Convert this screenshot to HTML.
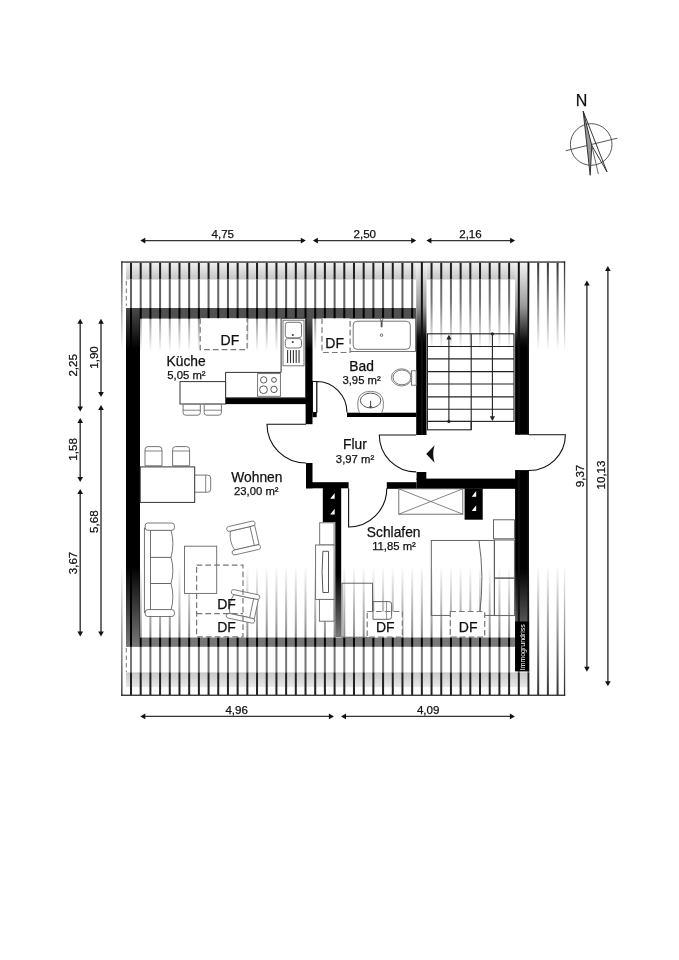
<!DOCTYPE html>
<html><head><meta charset="utf-8"><style>
html,body{margin:0;padding:0;background:#fff;}
body{width:679px;height:960px;overflow:hidden;}
svg{display:block;font-family:"Liberation Sans",sans-serif;filter:grayscale(1);}
text{stroke:#111;stroke-width:0.25px;}
</style></head><body>
<svg width="679" height="960" viewBox="0 0 679 960">
<rect width="679" height="960" fill="#fff"/>

<defs>
 <linearGradient id="gband" x1="0" y1="0" x2="0" y2="1">
  <stop offset="0" stop-color="#f0f0f0"/><stop offset="1" stop-color="#c4c4c4"/>
 </linearGradient>
 <linearGradient id="gbandb" x1="0" y1="0" x2="0" y2="1">
  <stop offset="0" stop-color="#c8c8c8"/><stop offset="1" stop-color="#e8e8e8"/>
 </linearGradient>
 <linearGradient id="fadeDown" x1="0" y1="0" x2="0" y2="1">
  <stop offset="0" stop-color="#fff" stop-opacity="0"/><stop offset="1" stop-color="#fff" stop-opacity="1"/>
 </linearGradient>
 <linearGradient id="fadeDownSlow" x1="0" y1="0" x2="0" y2="1">
  <stop offset="0" stop-color="#fff" stop-opacity="0"/><stop offset="0.3" stop-color="#fff" stop-opacity="0.1"/><stop offset="0.75" stop-color="#fff" stop-opacity="0.7"/><stop offset="1" stop-color="#fff" stop-opacity="1"/>
 </linearGradient>
 <linearGradient id="gEdge" x1="0" y1="262" x2="0" y2="695" gradientUnits="userSpaceOnUse">
  <stop offset="0" stop-color="#2a2a2a" stop-opacity="1"/><stop offset="0.208" stop-color="#2a2a2a" stop-opacity="0"/>
  <stop offset="0.70" stop-color="#2a2a2a" stop-opacity="0"/><stop offset="1" stop-color="#2a2a2a" stop-opacity="1"/>
 </linearGradient>
 <linearGradient id="gKBwall" x1="0" y1="318" x2="0" y2="350" gradientUnits="userSpaceOnUse">
  <stop offset="0" stop-color="#555"/><stop offset="1" stop-color="#000"/>
 </linearGradient>
 <linearGradient id="fadeUp" x1="0" y1="0" x2="0" y2="1">
  <stop offset="0" stop-color="#fff" stop-opacity="1"/><stop offset="1" stop-color="#fff" stop-opacity="0"/>
 </linearGradient>
 <linearGradient id="gLeftWall" x1="0" y1="308" x2="0" y2="646.5" gradientUnits="userSpaceOnUse">
  <stop offset="0" stop-color="#4a4a4a"/><stop offset="0.12" stop-color="#000"/>
  <stop offset="0.765" stop-color="#000"/><stop offset="1" stop-color="#777"/>
 </linearGradient>
 <linearGradient id="gStairL" x1="0" y1="262" x2="0" y2="345" gradientUnits="userSpaceOnUse">
  <stop offset="0" stop-color="#f4f4f4"/><stop offset="0.53" stop-color="#9a9a9a"/><stop offset="0.9" stop-color="#111"/><stop offset="1" stop-color="#000"/>
 </linearGradient>
 <linearGradient id="gStairR" x1="0" y1="262" x2="0" y2="671" gradientUnits="userSpaceOnUse">
  <stop offset="0" stop-color="#f4f4f4"/><stop offset="0.107" stop-color="#9a9a9a"/><stop offset="0.19" stop-color="#111"/><stop offset="0.21" stop-color="#000"/>
  <stop offset="0.75" stop-color="#000"/><stop offset="0.88" stop-color="#555"/><stop offset="1" stop-color="#555"/>
 </linearGradient>
 <linearGradient id="gWSwall" x1="0" y1="522" x2="0" y2="637" gradientUnits="userSpaceOnUse">
  <stop offset="0" stop-color="#000"/><stop offset="0.45" stop-color="#000"/><stop offset="1" stop-color="#777"/>
 </linearGradient>
</defs>

<rect x="126" y="262.8" width="290" height="16.7" fill="url(#gband)"/>
<rect x="426.5" y="262.8" width="89" height="16.7" fill="url(#gband)"/>
<rect x="130.00" y="262.80" width="2.00" height="16.70" fill="#1e1e1e" />
<rect x="139.69" y="262.80" width="2.00" height="16.70" fill="#1e1e1e" />
<rect x="149.39" y="262.80" width="2.00" height="16.70" fill="#1e1e1e" />
<rect x="159.09" y="262.80" width="2.00" height="16.70" fill="#1e1e1e" />
<rect x="168.78" y="262.80" width="2.00" height="16.70" fill="#1e1e1e" />
<rect x="178.47" y="262.80" width="2.00" height="16.70" fill="#1e1e1e" />
<rect x="188.17" y="262.80" width="2.00" height="16.70" fill="#1e1e1e" />
<rect x="197.87" y="262.80" width="2.00" height="16.70" fill="#1e1e1e" />
<rect x="207.56" y="262.80" width="2.00" height="16.70" fill="#1e1e1e" />
<rect x="217.25" y="262.80" width="2.00" height="16.70" fill="#1e1e1e" />
<rect x="226.95" y="262.80" width="2.00" height="16.70" fill="#1e1e1e" />
<rect x="236.65" y="262.80" width="2.00" height="16.70" fill="#1e1e1e" />
<rect x="246.34" y="262.80" width="2.00" height="16.70" fill="#1e1e1e" />
<rect x="256.03" y="262.80" width="2.00" height="16.70" fill="#1e1e1e" />
<rect x="265.73" y="262.80" width="2.00" height="16.70" fill="#1e1e1e" />
<rect x="275.43" y="262.80" width="2.00" height="16.70" fill="#1e1e1e" />
<rect x="285.12" y="262.80" width="2.00" height="16.70" fill="#1e1e1e" />
<rect x="294.81" y="262.80" width="2.00" height="16.70" fill="#1e1e1e" />
<rect x="304.51" y="262.80" width="2.00" height="16.70" fill="#1e1e1e" />
<rect x="314.21" y="262.80" width="2.00" height="16.70" fill="#1e1e1e" />
<rect x="323.90" y="262.80" width="2.00" height="16.70" fill="#1e1e1e" />
<rect x="333.60" y="262.80" width="2.00" height="16.70" fill="#1e1e1e" />
<rect x="343.29" y="262.80" width="2.00" height="16.70" fill="#1e1e1e" />
<rect x="352.99" y="262.80" width="2.00" height="16.70" fill="#1e1e1e" />
<rect x="362.68" y="262.80" width="2.00" height="16.70" fill="#1e1e1e" />
<rect x="372.38" y="262.80" width="2.00" height="16.70" fill="#1e1e1e" />
<rect x="382.07" y="262.80" width="2.00" height="16.70" fill="#1e1e1e" />
<rect x="391.76" y="262.80" width="2.00" height="16.70" fill="#1e1e1e" />
<rect x="401.46" y="262.80" width="2.00" height="16.70" fill="#1e1e1e" />
<rect x="411.16" y="262.80" width="2.00" height="16.70" fill="#1e1e1e" />
<rect x="130.00" y="279.50" width="2.00" height="28.50" fill="#666" />
<rect x="139.69" y="279.50" width="2.00" height="28.50" fill="#666" />
<rect x="149.39" y="279.50" width="2.00" height="28.50" fill="#666" />
<rect x="159.09" y="279.50" width="2.00" height="28.50" fill="#666" />
<rect x="168.78" y="279.50" width="2.00" height="28.50" fill="#666" />
<rect x="178.47" y="279.50" width="2.00" height="28.50" fill="#666" />
<rect x="188.17" y="279.50" width="2.00" height="28.50" fill="#666" />
<rect x="197.87" y="279.50" width="2.00" height="28.50" fill="#666" />
<rect x="207.56" y="279.50" width="2.00" height="28.50" fill="#666" />
<rect x="217.25" y="279.50" width="2.00" height="28.50" fill="#666" />
<rect x="226.95" y="279.50" width="2.00" height="28.50" fill="#666" />
<rect x="236.65" y="279.50" width="2.00" height="28.50" fill="#666" />
<rect x="246.34" y="279.50" width="2.00" height="28.50" fill="#666" />
<rect x="256.03" y="279.50" width="2.00" height="28.50" fill="#666" />
<rect x="265.73" y="279.50" width="2.00" height="28.50" fill="#666" />
<rect x="275.43" y="279.50" width="2.00" height="28.50" fill="#666" />
<rect x="285.12" y="279.50" width="2.00" height="28.50" fill="#666" />
<rect x="294.81" y="279.50" width="2.00" height="28.50" fill="#666" />
<rect x="304.51" y="279.50" width="2.00" height="28.50" fill="#666" />
<rect x="314.21" y="279.50" width="2.00" height="28.50" fill="#666" />
<rect x="323.90" y="279.50" width="2.00" height="28.50" fill="#666" />
<rect x="333.60" y="279.50" width="2.00" height="28.50" fill="#666" />
<rect x="343.29" y="279.50" width="2.00" height="28.50" fill="#666" />
<rect x="352.99" y="279.50" width="2.00" height="28.50" fill="#666" />
<rect x="362.68" y="279.50" width="2.00" height="28.50" fill="#666" />
<rect x="372.38" y="279.50" width="2.00" height="28.50" fill="#666" />
<rect x="382.07" y="279.50" width="2.00" height="28.50" fill="#666" />
<rect x="391.76" y="279.50" width="2.00" height="28.50" fill="#666" />
<rect x="401.46" y="279.50" width="2.00" height="28.50" fill="#666" />
<rect x="411.16" y="279.50" width="2.00" height="28.50" fill="#666" />
<rect x="430.55" y="262.80" width="2.00" height="16.70" fill="#1e1e1e" />
<rect x="440.24" y="262.80" width="2.00" height="16.70" fill="#1e1e1e" />
<rect x="449.94" y="262.80" width="2.00" height="16.70" fill="#1e1e1e" />
<rect x="459.63" y="262.80" width="2.00" height="16.70" fill="#1e1e1e" />
<rect x="469.32" y="262.80" width="2.00" height="16.70" fill="#1e1e1e" />
<rect x="479.02" y="262.80" width="2.00" height="16.70" fill="#1e1e1e" />
<rect x="488.72" y="262.80" width="2.00" height="16.70" fill="#1e1e1e" />
<rect x="498.41" y="262.80" width="2.00" height="16.70" fill="#1e1e1e" />
<rect x="508.11" y="262.80" width="2.00" height="16.70" fill="#1e1e1e" />
<rect x="430.55" y="279.50" width="2.00" height="70.50" fill="#666" />
<rect x="440.24" y="279.50" width="2.00" height="70.50" fill="#666" />
<rect x="449.94" y="279.50" width="2.00" height="70.50" fill="#666" />
<rect x="459.63" y="279.50" width="2.00" height="70.50" fill="#666" />
<rect x="469.32" y="279.50" width="2.00" height="70.50" fill="#666" />
<rect x="479.02" y="279.50" width="2.00" height="70.50" fill="#666" />
<rect x="488.72" y="279.50" width="2.00" height="70.50" fill="#666" />
<rect x="498.41" y="279.50" width="2.00" height="70.50" fill="#666" />
<rect x="508.11" y="279.50" width="2.00" height="70.50" fill="#666" />
<rect x="426.5" y="279.5" width="89" height="70.5" fill="url(#fadeDownSlow)"/>
<rect x="140.00" y="318.00" width="1.69" height="34.00" fill="#9a9a9a" />
<rect x="149.39" y="318.00" width="2.00" height="34.00" fill="#9a9a9a" />
<rect x="159.09" y="318.00" width="2.00" height="34.00" fill="#9a9a9a" />
<rect x="168.78" y="318.00" width="2.00" height="34.00" fill="#9a9a9a" />
<rect x="178.47" y="318.00" width="2.00" height="34.00" fill="#9a9a9a" />
<rect x="188.17" y="318.00" width="2.00" height="34.00" fill="#9a9a9a" />
<rect x="197.87" y="318.00" width="2.00" height="34.00" fill="#9a9a9a" />
<rect x="207.56" y="318.00" width="2.00" height="34.00" fill="#9a9a9a" />
<rect x="217.25" y="318.00" width="2.00" height="34.00" fill="#9a9a9a" />
<rect x="226.95" y="318.00" width="2.00" height="34.00" fill="#9a9a9a" />
<rect x="236.65" y="318.00" width="2.00" height="34.00" fill="#9a9a9a" />
<rect x="246.34" y="318.00" width="2.00" height="34.00" fill="#9a9a9a" />
<rect x="256.03" y="318.00" width="2.00" height="34.00" fill="#9a9a9a" />
<rect x="265.73" y="318.00" width="2.00" height="34.00" fill="#9a9a9a" />
<rect x="275.43" y="318.00" width="2.00" height="34.00" fill="#9a9a9a" />
<rect x="285.12" y="318.00" width="2.00" height="34.00" fill="#9a9a9a" />
<rect x="294.81" y="318.00" width="2.00" height="34.00" fill="#9a9a9a" />
<rect x="304.51" y="318.00" width="1.49" height="34.00" fill="#9a9a9a" />
<rect x="314.21" y="318.00" width="2.00" height="34.00" fill="#9a9a9a" />
<rect x="323.90" y="318.00" width="2.00" height="34.00" fill="#9a9a9a" />
<rect x="333.60" y="318.00" width="2.00" height="34.00" fill="#9a9a9a" />
<rect x="343.29" y="318.00" width="2.00" height="34.00" fill="#9a9a9a" />
<rect x="352.99" y="318.00" width="2.00" height="34.00" fill="#9a9a9a" />
<rect x="362.68" y="318.00" width="2.00" height="34.00" fill="#9a9a9a" />
<rect x="372.38" y="318.00" width="2.00" height="34.00" fill="#9a9a9a" />
<rect x="382.07" y="318.00" width="2.00" height="34.00" fill="#9a9a9a" />
<rect x="391.76" y="318.00" width="2.00" height="34.00" fill="#9a9a9a" />
<rect x="401.46" y="318.00" width="2.00" height="34.00" fill="#9a9a9a" />
<rect x="411.16" y="318.00" width="2.00" height="34.00" fill="#9a9a9a" />
<rect x="140" y="318" width="276" height="34" fill="url(#fadeDown)"/>
<rect x="529.00" y="262.80" width="0.50" height="87.20" fill="#333" />
<rect x="537.19" y="262.80" width="2.00" height="87.20" fill="#333" />
<rect x="546.88" y="262.80" width="2.00" height="87.20" fill="#333" />
<rect x="556.58" y="262.80" width="2.00" height="87.20" fill="#333" />
<rect x="529" y="262.8" width="35.5" height="87.2" fill="url(#fadeDown)"/>
<rect x="529.00" y="565.00" width="0.50" height="130.00" fill="#333" />
<rect x="537.19" y="565.00" width="2.00" height="130.00" fill="#333" />
<rect x="546.88" y="565.00" width="2.00" height="130.00" fill="#333" />
<rect x="556.58" y="565.00" width="2.00" height="130.00" fill="#333" />
<rect x="529" y="565" width="35.5" height="130" fill="url(#fadeUp)"/>
<rect x="126" y="672.4" width="403" height="14.8" fill="url(#gbandb)"/>
<rect x="130.00" y="646.80" width="2.00" height="25.60" fill="#777" />
<rect x="139.69" y="646.80" width="2.00" height="25.60" fill="#777" />
<rect x="149.39" y="646.80" width="2.00" height="25.60" fill="#777" />
<rect x="159.09" y="646.80" width="2.00" height="25.60" fill="#777" />
<rect x="168.78" y="646.80" width="2.00" height="25.60" fill="#777" />
<rect x="178.47" y="646.80" width="2.00" height="25.60" fill="#777" />
<rect x="188.17" y="646.80" width="2.00" height="25.60" fill="#777" />
<rect x="197.87" y="646.80" width="2.00" height="25.60" fill="#777" />
<rect x="207.56" y="646.80" width="2.00" height="25.60" fill="#777" />
<rect x="217.25" y="646.80" width="2.00" height="25.60" fill="#777" />
<rect x="226.95" y="646.80" width="2.00" height="25.60" fill="#777" />
<rect x="236.65" y="646.80" width="2.00" height="25.60" fill="#777" />
<rect x="246.34" y="646.80" width="2.00" height="25.60" fill="#777" />
<rect x="256.03" y="646.80" width="2.00" height="25.60" fill="#777" />
<rect x="265.73" y="646.80" width="2.00" height="25.60" fill="#777" />
<rect x="275.43" y="646.80" width="2.00" height="25.60" fill="#777" />
<rect x="285.12" y="646.80" width="2.00" height="25.60" fill="#777" />
<rect x="294.81" y="646.80" width="2.00" height="25.60" fill="#777" />
<rect x="304.51" y="646.80" width="2.00" height="25.60" fill="#777" />
<rect x="314.21" y="646.80" width="2.00" height="25.60" fill="#777" />
<rect x="323.90" y="646.80" width="2.00" height="25.60" fill="#777" />
<rect x="333.60" y="646.80" width="2.00" height="25.60" fill="#777" />
<rect x="343.29" y="646.80" width="2.00" height="25.60" fill="#777" />
<rect x="352.99" y="646.80" width="2.00" height="25.60" fill="#777" />
<rect x="362.68" y="646.80" width="2.00" height="25.60" fill="#777" />
<rect x="372.38" y="646.80" width="2.00" height="25.60" fill="#777" />
<rect x="382.07" y="646.80" width="2.00" height="25.60" fill="#777" />
<rect x="391.76" y="646.80" width="2.00" height="25.60" fill="#777" />
<rect x="401.46" y="646.80" width="2.00" height="25.60" fill="#777" />
<rect x="411.16" y="646.80" width="2.00" height="25.60" fill="#777" />
<rect x="420.85" y="646.80" width="2.00" height="25.60" fill="#777" />
<rect x="430.55" y="646.80" width="2.00" height="25.60" fill="#777" />
<rect x="440.24" y="646.80" width="2.00" height="25.60" fill="#777" />
<rect x="449.94" y="646.80" width="2.00" height="25.60" fill="#777" />
<rect x="459.63" y="646.80" width="2.00" height="25.60" fill="#777" />
<rect x="469.32" y="646.80" width="2.00" height="25.60" fill="#777" />
<rect x="479.02" y="646.80" width="2.00" height="25.60" fill="#777" />
<rect x="488.72" y="646.80" width="2.00" height="25.60" fill="#777" />
<rect x="498.41" y="646.80" width="2.00" height="25.60" fill="#777" />
<rect x="508.11" y="646.80" width="2.00" height="25.60" fill="#777" />
<rect x="517.80" y="646.80" width="2.00" height="25.60" fill="#777" />
<rect x="527.50" y="646.80" width="1.50" height="25.60" fill="#777" />
<rect x="130.00" y="672.40" width="2.00" height="22.60" fill="#222" />
<rect x="139.69" y="672.40" width="2.00" height="22.60" fill="#222" />
<rect x="149.39" y="672.40" width="2.00" height="22.60" fill="#222" />
<rect x="159.09" y="672.40" width="2.00" height="22.60" fill="#222" />
<rect x="168.78" y="672.40" width="2.00" height="22.60" fill="#222" />
<rect x="178.47" y="672.40" width="2.00" height="22.60" fill="#222" />
<rect x="188.17" y="672.40" width="2.00" height="22.60" fill="#222" />
<rect x="197.87" y="672.40" width="2.00" height="22.60" fill="#222" />
<rect x="207.56" y="672.40" width="2.00" height="22.60" fill="#222" />
<rect x="217.25" y="672.40" width="2.00" height="22.60" fill="#222" />
<rect x="226.95" y="672.40" width="2.00" height="22.60" fill="#222" />
<rect x="236.65" y="672.40" width="2.00" height="22.60" fill="#222" />
<rect x="246.34" y="672.40" width="2.00" height="22.60" fill="#222" />
<rect x="256.03" y="672.40" width="2.00" height="22.60" fill="#222" />
<rect x="265.73" y="672.40" width="2.00" height="22.60" fill="#222" />
<rect x="275.43" y="672.40" width="2.00" height="22.60" fill="#222" />
<rect x="285.12" y="672.40" width="2.00" height="22.60" fill="#222" />
<rect x="294.81" y="672.40" width="2.00" height="22.60" fill="#222" />
<rect x="304.51" y="672.40" width="2.00" height="22.60" fill="#222" />
<rect x="314.21" y="672.40" width="2.00" height="22.60" fill="#222" />
<rect x="323.90" y="672.40" width="2.00" height="22.60" fill="#222" />
<rect x="333.60" y="672.40" width="2.00" height="22.60" fill="#222" />
<rect x="343.29" y="672.40" width="2.00" height="22.60" fill="#222" />
<rect x="352.99" y="672.40" width="2.00" height="22.60" fill="#222" />
<rect x="362.68" y="672.40" width="2.00" height="22.60" fill="#222" />
<rect x="372.38" y="672.40" width="2.00" height="22.60" fill="#222" />
<rect x="382.07" y="672.40" width="2.00" height="22.60" fill="#222" />
<rect x="391.76" y="672.40" width="2.00" height="22.60" fill="#222" />
<rect x="401.46" y="672.40" width="2.00" height="22.60" fill="#222" />
<rect x="411.16" y="672.40" width="2.00" height="22.60" fill="#222" />
<rect x="420.85" y="672.40" width="2.00" height="22.60" fill="#222" />
<rect x="430.55" y="672.40" width="2.00" height="22.60" fill="#222" />
<rect x="440.24" y="672.40" width="2.00" height="22.60" fill="#222" />
<rect x="449.94" y="672.40" width="2.00" height="22.60" fill="#222" />
<rect x="459.63" y="672.40" width="2.00" height="22.60" fill="#222" />
<rect x="469.32" y="672.40" width="2.00" height="22.60" fill="#222" />
<rect x="479.02" y="672.40" width="2.00" height="22.60" fill="#222" />
<rect x="488.72" y="672.40" width="2.00" height="22.60" fill="#222" />
<rect x="498.41" y="672.40" width="2.00" height="22.60" fill="#222" />
<rect x="508.11" y="672.40" width="2.00" height="22.60" fill="#222" />
<rect x="517.80" y="672.40" width="2.00" height="22.60" fill="#222" />
<rect x="527.50" y="672.40" width="1.50" height="22.60" fill="#222" />
<rect x="140.00" y="566.00" width="1.69" height="71.00" fill="#8a8a8a" />
<rect x="149.39" y="566.00" width="2.00" height="71.00" fill="#8a8a8a" />
<rect x="159.09" y="566.00" width="2.00" height="71.00" fill="#8a8a8a" />
<rect x="168.78" y="566.00" width="2.00" height="71.00" fill="#8a8a8a" />
<rect x="178.47" y="566.00" width="2.00" height="71.00" fill="#8a8a8a" />
<rect x="188.17" y="566.00" width="2.00" height="71.00" fill="#8a8a8a" />
<rect x="197.87" y="566.00" width="2.00" height="71.00" fill="#8a8a8a" />
<rect x="207.56" y="566.00" width="2.00" height="71.00" fill="#8a8a8a" />
<rect x="217.25" y="566.00" width="2.00" height="71.00" fill="#8a8a8a" />
<rect x="226.95" y="566.00" width="2.00" height="71.00" fill="#8a8a8a" />
<rect x="236.65" y="566.00" width="2.00" height="71.00" fill="#8a8a8a" />
<rect x="246.34" y="566.00" width="2.00" height="71.00" fill="#8a8a8a" />
<rect x="256.03" y="566.00" width="2.00" height="71.00" fill="#8a8a8a" />
<rect x="265.73" y="566.00" width="2.00" height="71.00" fill="#8a8a8a" />
<rect x="275.43" y="566.00" width="2.00" height="71.00" fill="#8a8a8a" />
<rect x="285.12" y="566.00" width="2.00" height="71.00" fill="#8a8a8a" />
<rect x="294.81" y="566.00" width="2.00" height="71.00" fill="#8a8a8a" />
<rect x="304.51" y="566.00" width="2.00" height="71.00" fill="#8a8a8a" />
<rect x="314.21" y="566.00" width="2.00" height="71.00" fill="#8a8a8a" />
<rect x="323.90" y="566.00" width="2.00" height="71.00" fill="#8a8a8a" />
<rect x="333.60" y="566.00" width="2.00" height="71.00" fill="#8a8a8a" />
<rect x="343.29" y="566.00" width="2.00" height="71.00" fill="#8a8a8a" />
<rect x="352.99" y="566.00" width="2.00" height="71.00" fill="#8a8a8a" />
<rect x="362.68" y="566.00" width="2.00" height="71.00" fill="#8a8a8a" />
<rect x="372.38" y="566.00" width="2.00" height="71.00" fill="#8a8a8a" />
<rect x="382.07" y="566.00" width="2.00" height="71.00" fill="#8a8a8a" />
<rect x="391.76" y="566.00" width="2.00" height="71.00" fill="#8a8a8a" />
<rect x="401.46" y="566.00" width="2.00" height="71.00" fill="#8a8a8a" />
<rect x="411.16" y="566.00" width="2.00" height="71.00" fill="#8a8a8a" />
<rect x="420.85" y="566.00" width="2.00" height="71.00" fill="#8a8a8a" />
<rect x="430.55" y="566.00" width="2.00" height="71.00" fill="#8a8a8a" />
<rect x="440.24" y="566.00" width="2.00" height="71.00" fill="#8a8a8a" />
<rect x="449.94" y="566.00" width="2.00" height="71.00" fill="#8a8a8a" />
<rect x="459.63" y="566.00" width="2.00" height="71.00" fill="#8a8a8a" />
<rect x="469.32" y="566.00" width="2.00" height="71.00" fill="#8a8a8a" />
<rect x="479.02" y="566.00" width="2.00" height="71.00" fill="#8a8a8a" />
<rect x="488.72" y="566.00" width="2.00" height="71.00" fill="#8a8a8a" />
<rect x="498.41" y="566.00" width="2.00" height="71.00" fill="#8a8a8a" />
<rect x="508.11" y="566.00" width="2.00" height="71.00" fill="#8a8a8a" />
<rect x="140" y="566" width="376" height="71" fill="url(#fadeUp)"/>
<line x1="126.3" y1="281" x2="126.3" y2="306" stroke="#777" stroke-width="1" stroke-dasharray="4.5 3"/>
<line x1="126.3" y1="648" x2="126.3" y2="672" stroke="#777" stroke-width="1" stroke-dasharray="4.5 3"/>
<rect x="126" y="308" width="290" height="10.6" fill="#505050"/>
<rect x="130.00" y="308.00" width="2.00" height="10.60" fill="#000" />
<rect x="139.69" y="308.00" width="2.00" height="10.60" fill="#000" />
<rect x="149.39" y="308.00" width="2.00" height="10.60" fill="#000" />
<rect x="159.09" y="308.00" width="2.00" height="10.60" fill="#000" />
<rect x="168.78" y="308.00" width="2.00" height="10.60" fill="#000" />
<rect x="178.47" y="308.00" width="2.00" height="10.60" fill="#000" />
<rect x="188.17" y="308.00" width="2.00" height="10.60" fill="#000" />
<rect x="197.87" y="308.00" width="2.00" height="10.60" fill="#000" />
<rect x="207.56" y="308.00" width="2.00" height="10.60" fill="#000" />
<rect x="217.25" y="308.00" width="2.00" height="10.60" fill="#000" />
<rect x="226.95" y="308.00" width="2.00" height="10.60" fill="#000" />
<rect x="236.65" y="308.00" width="2.00" height="10.60" fill="#000" />
<rect x="246.34" y="308.00" width="2.00" height="10.60" fill="#000" />
<rect x="256.03" y="308.00" width="2.00" height="10.60" fill="#000" />
<rect x="265.73" y="308.00" width="2.00" height="10.60" fill="#000" />
<rect x="275.43" y="308.00" width="2.00" height="10.60" fill="#000" />
<rect x="285.12" y="308.00" width="2.00" height="10.60" fill="#000" />
<rect x="294.81" y="308.00" width="2.00" height="10.60" fill="#000" />
<rect x="304.51" y="308.00" width="2.00" height="10.60" fill="#000" />
<rect x="314.21" y="308.00" width="2.00" height="10.60" fill="#000" />
<rect x="323.90" y="308.00" width="2.00" height="10.60" fill="#000" />
<rect x="333.60" y="308.00" width="2.00" height="10.60" fill="#000" />
<rect x="343.29" y="308.00" width="2.00" height="10.60" fill="#000" />
<rect x="352.99" y="308.00" width="2.00" height="10.60" fill="#000" />
<rect x="362.68" y="308.00" width="2.00" height="10.60" fill="#000" />
<rect x="372.38" y="308.00" width="2.00" height="10.60" fill="#000" />
<rect x="382.07" y="308.00" width="2.00" height="10.60" fill="#000" />
<rect x="391.76" y="308.00" width="2.00" height="10.60" fill="#000" />
<rect x="401.46" y="308.00" width="2.00" height="10.60" fill="#000" />
<rect x="411.16" y="308.00" width="2.00" height="10.60" fill="#000" />
<rect x="126" y="637.5" width="390" height="9.3" fill="#777"/>
<rect x="130.00" y="637.50" width="2.00" height="9.30" fill="#000" />
<rect x="139.69" y="637.50" width="2.00" height="9.30" fill="#000" />
<rect x="149.39" y="637.50" width="2.00" height="9.30" fill="#000" />
<rect x="159.09" y="637.50" width="2.00" height="9.30" fill="#000" />
<rect x="168.78" y="637.50" width="2.00" height="9.30" fill="#000" />
<rect x="178.47" y="637.50" width="2.00" height="9.30" fill="#000" />
<rect x="188.17" y="637.50" width="2.00" height="9.30" fill="#000" />
<rect x="197.87" y="637.50" width="2.00" height="9.30" fill="#000" />
<rect x="207.56" y="637.50" width="2.00" height="9.30" fill="#000" />
<rect x="217.25" y="637.50" width="2.00" height="9.30" fill="#000" />
<rect x="226.95" y="637.50" width="2.00" height="9.30" fill="#000" />
<rect x="236.65" y="637.50" width="2.00" height="9.30" fill="#000" />
<rect x="246.34" y="637.50" width="2.00" height="9.30" fill="#000" />
<rect x="256.03" y="637.50" width="2.00" height="9.30" fill="#000" />
<rect x="265.73" y="637.50" width="2.00" height="9.30" fill="#000" />
<rect x="275.43" y="637.50" width="2.00" height="9.30" fill="#000" />
<rect x="285.12" y="637.50" width="2.00" height="9.30" fill="#000" />
<rect x="294.81" y="637.50" width="2.00" height="9.30" fill="#000" />
<rect x="304.51" y="637.50" width="2.00" height="9.30" fill="#000" />
<rect x="314.21" y="637.50" width="2.00" height="9.30" fill="#000" />
<rect x="323.90" y="637.50" width="2.00" height="9.30" fill="#000" />
<rect x="333.60" y="637.50" width="2.00" height="9.30" fill="#000" />
<rect x="343.29" y="637.50" width="2.00" height="9.30" fill="#000" />
<rect x="352.99" y="637.50" width="2.00" height="9.30" fill="#000" />
<rect x="362.68" y="637.50" width="2.00" height="9.30" fill="#000" />
<rect x="372.38" y="637.50" width="2.00" height="9.30" fill="#000" />
<rect x="382.07" y="637.50" width="2.00" height="9.30" fill="#000" />
<rect x="391.76" y="637.50" width="2.00" height="9.30" fill="#000" />
<rect x="401.46" y="637.50" width="2.00" height="9.30" fill="#000" />
<rect x="411.16" y="637.50" width="2.00" height="9.30" fill="#000" />
<rect x="420.85" y="637.50" width="2.00" height="9.30" fill="#000" />
<rect x="430.55" y="637.50" width="2.00" height="9.30" fill="#000" />
<rect x="440.24" y="637.50" width="2.00" height="9.30" fill="#000" />
<rect x="449.94" y="637.50" width="2.00" height="9.30" fill="#000" />
<rect x="459.63" y="637.50" width="2.00" height="9.30" fill="#000" />
<rect x="469.32" y="637.50" width="2.00" height="9.30" fill="#000" />
<rect x="479.02" y="637.50" width="2.00" height="9.30" fill="#000" />
<rect x="488.72" y="637.50" width="2.00" height="9.30" fill="#000" />
<rect x="498.41" y="637.50" width="2.00" height="9.30" fill="#000" />
<rect x="508.11" y="637.50" width="2.00" height="9.30" fill="#000" />
<rect x="126" y="308" width="14" height="338.5" fill="url(#gLeftWall)"/>
<rect x="130.00" y="308.00" width="2.00" height="338.50" fill="#000" />
<rect x="139.69" y="308.00" width="0.31" height="338.50" fill="#000" />
<rect x="416.2" y="262" width="10.3" height="173" fill="url(#gStairL)"/>
<rect x="515.1" y="262" width="13.9" height="172.7" fill="url(#gStairR)"/>
<rect x="515.1" y="470.1" width="13.9" height="200.9" fill="url(#gStairR)"/>
<rect x="420.85" y="262.00" width="2.00" height="173.00" fill="#111" />
<rect x="517.80" y="262.00" width="2.00" height="172.70" fill="#111" />
<rect x="527.50" y="262.00" width="1.50" height="172.70" fill="#111" />
<rect x="517.80" y="470.10" width="2.00" height="200.90" fill="#111" />
<rect x="527.50" y="470.10" width="1.50" height="200.90" fill="#111" />
<rect x="225.5" y="397.8" width="87.00" height="6.30" fill="#000"/>
<rect x="312.5" y="412.5" width="4.20" height="4.70" fill="#000"/>
<rect x="347.0" y="412.7" width="69.50" height="4.30" fill="#000"/>
<rect x="306.0" y="463.0" width="6.50" height="25.30" fill="#000"/>
<rect x="306.0" y="482.2" width="42.60" height="6.10" fill="#000"/>
<rect x="386.8" y="482.2" width="29.80" height="6.60" fill="#000"/>
<rect x="416.6" y="478.6" width="99.40" height="10.20" fill="#000"/>
<rect x="416.6" y="472.0" width="9.70" height="8.00" fill="#000"/>
<rect x="322.8" y="488.0" width="18.40" height="34.20" fill="#000"/>
<rect x="464.6" y="488.5" width="18.10" height="31.20" fill="#000"/>
<rect x="335.3" y="522" width="5.9" height="115" fill="url(#gWSwall)"/>
<rect x="305.6" y="318" width="6.9" height="106.2" fill="url(#gKBwall)"/>
<rect x="305.60" y="318.00" width="0.91" height="32.00" fill="#111" />
<path d="M330.2 498.7 L334.7 498.7 L334.7 493.0 Z" fill="#fff"/>
<path d="M330.2 514.5 L334.7 514.5 L334.7 508.8 Z" fill="#fff"/>
<path d="M471.7 496.7 L476.2 496.7 L476.2 491 Z" fill="#fff"/>
<path d="M471.7 511.0 L476.2 511.0 L476.2 505.3 Z" fill="#fff"/>
<rect x="200.2" y="318.3" width="46.9" height="31.3" fill="#fff"/>
<path d="M200.2 318.3 L200.2 349.6 L247.1 349.6 L247.1 318.3" fill="none" stroke="#777" stroke-width="1.2" stroke-dasharray="5.7 3.1"/>
<path d="M225.6 372.4 L281.1 372.4 L281.1 318.3 L305.6 318.3 L305.6 397.8 L225.6 397.8 Z" stroke="#333" stroke-width="1" fill="#fff"/>
<rect x="283" y="320.2" width="21" height="45.6" stroke="#666" stroke-width="0.9" fill="#fff"/>
<rect x="285.3" y="322.3" width="16.2" height="15.5" rx="2.5" fill="#fff" stroke="#777" stroke-width="1"/>
<rect x="285.3" y="338.6" width="16.2" height="9.4" rx="2.5" fill="#fff" stroke="#777" stroke-width="1"/>
<circle cx="292.8" cy="335" r="1.1" fill="#444"/><circle cx="292.8" cy="342" r="1.1" fill="#444"/>
<line x1="287.6" y1="350.6" x2="287.6" y2="362.4" stroke="#333" stroke-width="1.1" stroke-linecap="round"/>
<line x1="290.5" y1="350.6" x2="290.5" y2="362.4" stroke="#333" stroke-width="1.1" stroke-linecap="round"/>
<line x1="293.4" y1="350.6" x2="293.4" y2="362.4" stroke="#333" stroke-width="1.1" stroke-linecap="round"/>
<line x1="296.2" y1="350.6" x2="296.2" y2="362.4" stroke="#333" stroke-width="1.1" stroke-linecap="round"/>
<line x1="299.05" y1="350.6" x2="299.05" y2="362.4" stroke="#333" stroke-width="1.1" stroke-linecap="round"/>
<rect x="257.6" y="373.6" width="22.8" height="22.7" stroke="#666" stroke-width="0.9" fill="#fff"/>
<circle cx="263.7" cy="379.9" r="3.2" fill="none" stroke="#333" stroke-width="0.8"/>
<circle cx="274" cy="379.9" r="2.4" fill="none" stroke="#333" stroke-width="0.8"/>
<circle cx="263.5" cy="389.7" r="3.9" fill="none" stroke="#333" stroke-width="0.8"/>
<circle cx="274" cy="389.4" r="3.2" fill="none" stroke="#333" stroke-width="0.8"/>
<rect x="180" y="381.6" width="45.6" height="22.4" stroke="#333" stroke-width="1" fill="#fff"/>
<path d="M183.1 404.3 L200.29999999999998 404.3 L200.29999999999998 412.59999999999997 Q200.29999999999998 415.2 197.7 415.2 L185.7 415.2 Q183.1 415.2 183.1 412.59999999999997 Z" stroke="#666" stroke-width="0.9" fill="#fff"/>
<line x1="183.1" y1="410.2" x2="200.29999999999998" y2="410.2" stroke="#666" stroke-width="0.8"/>
<path d="M204.2 404.3 L221.39999999999998 404.3 L221.39999999999998 412.59999999999997 Q221.39999999999998 415.2 218.79999999999998 415.2 L206.79999999999998 415.2 Q204.2 415.2 204.2 412.59999999999997 Z" stroke="#666" stroke-width="0.9" fill="#fff"/>
<line x1="204.2" y1="410.2" x2="221.39999999999998" y2="410.2" stroke="#666" stroke-width="0.8"/>
<path d="M145 465.8 L145 449.6 Q145 446.6 148 446.6 L159 446.6 Q162 446.6 162 449.6 L162 465.8 Z" stroke="#666" stroke-width="0.9" fill="#fff"/>
<line x1="145" y1="451" x2="162" y2="451" stroke="#666" stroke-width="0.8"/>
<path d="M172.6 465.8 L172.6 449.6 Q172.6 446.6 175.6 446.6 L186.6 446.6 Q189.6 446.6 189.6 449.6 L189.6 465.8 Z" stroke="#666" stroke-width="0.9" fill="#fff"/>
<line x1="172.6" y1="451" x2="189.6" y2="451" stroke="#666" stroke-width="0.8"/>
<path d="M194.1 475.1 L207.7 475.1 Q210.7 475.1 210.7 478.1 L210.7 489.20000000000005 Q210.7 492.20000000000005 207.7 492.20000000000005 L194.1 492.20000000000005 Z" stroke="#666" stroke-width="0.9" fill="#fff"/>
<line x1="205.7" y1="475.1" x2="205.7" y2="492.2" stroke="#666" stroke-width="0.8"/>
<rect x="140.2" y="466.9" width="54.5" height="35.5" stroke="#333" stroke-width="1" fill="#fff"/>
<path d="M150.5 530 L171 530 Q 174.8 543.7 171 557.4 Q 174.8 570.5 171 583.5 Q 174.8 596.7 171 610 L150.5 610 Z" fill="#fff" stroke="#666" stroke-width="0.9"/>
<path d="M150.5 557.4 L171 557.4 M150.5 583.5 L171 583.5" stroke="#555" stroke-width="0.9"/>
<rect x="144.4" y="528.2" width="6.1" height="84.2" stroke="#666" stroke-width="0.9" fill="#fff"/>
<rect x="145.2" y="523" width="29.2" height="7.3" rx="2.6" stroke="#666" stroke-width="0.9" fill="#fff"/>
<rect x="145.2" y="609.6" width="29.2" height="6.9" rx="2.6" stroke="#666" stroke-width="0.9" fill="#fff"/>
<rect x="196.6" y="565.1" width="46.4" height="71.8" fill="#fff"/>
<rect x="184.5" y="546.2" width="32.2" height="47.2" fill="#fff"/>
<rect x="184.5" y="546.2" width="32.2" height="47.2" fill="none" stroke="#666" stroke-width="0.9"/>
<g transform="translate(243.6,538) rotate(-13) scale(0.88)"><path d="M-13 -11 L11 -11 L11 11 L-13 11 Q -17 0 -13 -11 Z" stroke="#666" stroke-width="0.9" fill="#fff"/><rect x="-16.5" y="-16.5" width="33" height="5.5" rx="2.7" stroke="#666" stroke-width="0.9" fill="#fff"/><rect x="-16.5" y="11" width="33" height="5.5" rx="2.7" stroke="#666" stroke-width="0.9" fill="#fff"/><rect x="10" y="-11" width="5.5" height="22" stroke="#666" stroke-width="0.9" fill="#fff"/></g>
<g transform="translate(243,606.4) rotate(12) scale(0.88)"><path d="M-13 -11 L11 -11 L11 11 L-13 11 Q -17 0 -13 -11 Z" stroke="#666" stroke-width="0.9" fill="#fff"/><rect x="-16.5" y="-16.5" width="33" height="5.5" rx="2.7" stroke="#666" stroke-width="0.9" fill="#fff"/><rect x="-16.5" y="11" width="33" height="5.5" rx="2.7" stroke="#666" stroke-width="0.9" fill="#fff"/><rect x="10" y="-11" width="5.5" height="22" stroke="#666" stroke-width="0.9" fill="#fff"/></g>
<rect x="196.6" y="565.1" width="46.4" height="71.8" fill="none" stroke="#777" stroke-width="1.2" stroke-dasharray="5.7 3.1"/>
<line x1="196.6" y1="613.7" x2="243" y2="613.7" stroke="#777" stroke-width="1.2" stroke-dasharray="5.7 3.1"/>
<rect x="319.7" y="522.8" width="14.4" height="22.2" stroke="#666" stroke-width="0.9" fill="#fff"/>
<rect x="315.6" y="545" width="18.5" height="54.4" stroke="#666" stroke-width="0.9" fill="#fff"/>
<path d="M322.9 551.3 L328.5 551.3 L328.5 592.5 L322.9 592.5 Q 321.3 572 322.9 551.3 Z" fill="#fff" stroke="#444" stroke-width="0.9"/>
<rect x="319.4" y="599.4" width="14.6" height="21.8" stroke="#666" stroke-width="0.9" fill="#fff"/>
<rect x="347" y="318.4" width="68.5" height="33.1" stroke="#666" stroke-width="0.9" fill="#fff"/>
<rect x="353.2" y="321.2" width="57.1" height="28.1" rx="4" stroke="#666" stroke-width="0.9" fill="#fff"/>
<line x1="381.6" y1="319.8" x2="381.6" y2="326.6" stroke="#555" stroke-width="1.9" stroke-linecap="round"/><circle cx="381.6" cy="319.6" r="1.2" fill="#fff" stroke="#555" stroke-width="0.8"/><circle cx="381.5" cy="335.2" r="1.2" fill="none" stroke="#555" stroke-width="0.9"/>
<rect x="322" y="318.4" width="28.1" height="34.1" fill="#fff"/>
<path d="M322 318.4 L322 352.5 L350.1 352.5 L350.1 318.4" fill="none" stroke="#777" stroke-width="1.2" stroke-dasharray="5.7 3.1"/>
<rect x="411.6" y="370.8" width="4.6" height="14.4" stroke="#666" stroke-width="0.9" fill="#fff"/>
<ellipse cx="401.6" cy="377.4" rx="10.2" ry="8.6" fill="#fff" stroke="#777" stroke-width="0.9"/>
<ellipse cx="401.9" cy="377.4" rx="8.9" ry="7.4" fill="none" stroke="#666" stroke-width="0.9"/>
<path d="M359.5 412.6 Q 357.3 409 357.8 402 Q 358.5 391.5 370.6 391.3 Q 382.7 391.5 383.4 402 Q 383.9 409 381.7 412.6" fill="#fff" stroke="#777" stroke-width="0.9"/>
<ellipse cx="370.6" cy="400.5" rx="10.2" ry="7.4" fill="none" stroke="#555" stroke-width="1"/>
<line x1="370.6" y1="400.8" x2="370.6" y2="407.5" stroke="#444" stroke-width="1"/><path d="M368.8 406.3 L372.4 406.3 L370.6 408.2 Z" fill="#444"/>
<rect x="398.8" y="488.8" width="64" height="25.4" fill="none" stroke="#666" stroke-width="0.9"/>
<path d="M398.8 488.8 L462.8 514.2 M398.8 514.2 L462.8 488.8" stroke="#666" stroke-width="0.8"/>
<rect x="493.5" y="519.8" width="20.9" height="19" stroke="#555" stroke-width="0.9" fill="none"/>
<rect x="431.3" y="540.4" width="63" height="75" stroke="#555" stroke-width="0.9" fill="none"/>
<path d="M478.9 540.4 Q 484.5 575 479.6 615.4" fill="none" stroke="#555" stroke-width="0.9"/>
<rect x="494.4" y="540" width="20" height="38.1" stroke="#555" stroke-width="0.9" fill="none"/>
<rect x="494.4" y="578.1" width="20" height="37.5" stroke="#555" stroke-width="0.9" fill="none"/>
<rect x="342" y="583.2" width="30.5" height="54" stroke="#555" stroke-width="0.9" fill="none"/>
<rect x="367.2" y="611.5" width="35.1" height="25.6" fill="#fff"/>
<rect x="450.3" y="611.5" width="34.4" height="25.6" fill="#fff"/>
<path d="M373 601.6 L389.0 601.6 Q391.6 601.6 391.6 604.2 L391.6 616.7 Q391.6 619.3000000000001 389.0 619.3000000000001 L373 619.3000000000001 Z" stroke="#555" stroke-width="0.9" fill="none"/>
<line x1="386.6" y1="601.6" x2="386.6" y2="619.3" stroke="#777" stroke-width="0.8"/>
<rect x="367.2" y="611.5" width="35.1" height="25.6" fill="none" stroke="#777" stroke-width="1.2" stroke-dasharray="5.7 3.1"/>
<rect x="450.3" y="611.5" width="34.4" height="25.6" fill="none" stroke="#777" stroke-width="1.2" stroke-dasharray="5.7 3.1"/>
<g stroke="#222" stroke-width="1.1" fill="none">
<rect x="427.4" y="333.8" width="86.6" height="87.6"/>
<rect x="427.4" y="421.4" width="43.8" height="8.4" fill="#fff"/>
<line x1="427.4" y1="346.5" x2="514" y2="346.5"/>
<line x1="427.4" y1="358.9" x2="514" y2="358.9"/>
<line x1="427.4" y1="371.6" x2="514" y2="371.6"/>
<line x1="427.4" y1="384" x2="514" y2="384"/>
<line x1="427.4" y1="396.9" x2="514" y2="396.9"/>
<line x1="427.4" y1="409.3" x2="514" y2="409.3"/>
<line x1="471.2" y1="333.8" x2="471.2" y2="429.8"/>
<line x1="448.9" y1="421.4" x2="448.9" y2="338"/>
<line x1="492.4" y1="333.8" x2="492.4" y2="417"/>
</g>
<path d="M448.9 334.8 L446.3 339.5 L451.5 339.5 Z" fill="#222"/>
<path d="M492.4 421 L489.8 416.3 L495 416.3 Z" fill="#222"/>
<circle cx="448.9" cy="421.4" r="1.6" fill="#222"/><circle cx="492.4" cy="333.8" r="1.6" fill="#222"/>
<g stroke="#111" stroke-width="1.1" fill="#fff">
<path d="M416.2 435 L379.3 435 A 36.9 36.9 0 0 0 416.2 471.9"/>
<path d="M529 434.7 L565.4 434.7 A 36.4 36 0 0 1 529 470.5"/>
<path d="M306 424.2 L267 424.2 A 39 38.8 0 0 0 306 463"/>
<path d="M316.7 412.5 L316.7 381.5 A 30.3 31 0 0 1 347 412.5" fill="none"/>
<path d="M348.6 488.3 L348.6 527 A 38.2 38.7 0 0 0 386.8 488.3" fill="none"/>
</g>
<rect x="312.5" y="381.5" width="4.2" height="31" fill="#fff" stroke="#111" stroke-width="1"/>
<path d="M426.2 454.1 L434.6 445.2 Q 431.8 454.1 434.6 462.8 Z" fill="#111"/>
<rect x="121.2" y="261.4" width="444" height="1.3" fill="#2a2a2a"/>
<rect x="121.2" y="694.6" width="444" height="1.3" fill="#2a2a2a"/>
<rect x="121.2" y="261.4" width="1.3" height="434.5" fill="url(#gEdge)"/>
<rect x="563.9" y="261.4" width="1.3" height="434.5" fill="url(#gEdge)"/>
<rect x="515.1" y="621.4" width="13.9" height="50" fill="#000"/>
<text transform="translate(525,670.3) rotate(-90)" font-size="6.9" fill="#fff" style="stroke:none" textLength="46" lengthAdjust="spacingAndGlyphs">Immogrundriss</text>
<text x="239.2" y="344.7" font-size="14.0" text-anchor="end" fill="#111" >DF</text>
<text x="344.0" y="348.2" font-size="14.0" text-anchor="end" fill="#111" >DF</text>
<text x="235.9" y="608.8" font-size="14.0" text-anchor="end" fill="#111" >DF</text>
<text x="235.9" y="632.3" font-size="14.0" text-anchor="end" fill="#111" >DF</text>
<text x="394.6" y="632.1" font-size="14.0" text-anchor="end" fill="#111" >DF</text>
<text x="477.5" y="632.1" font-size="14.0" text-anchor="end" fill="#111" >DF</text>
<text x="166.6" y="365.8" font-size="13.8" text-anchor="start" fill="#111" >Küche</text>
<text x="167.25" y="379.3" font-size="11.3" text-anchor="start" fill="#111" >5,05 m²</text>
<text x="361.6" y="370.8" font-size="13.8" text-anchor="middle" fill="#111" >Bad</text>
<text x="361.6" y="384.3" font-size="11.3" text-anchor="middle" fill="#111" >3,95 m²</text>
<text x="354.9" y="448.7" font-size="13.8" text-anchor="middle" fill="#111" >Flur</text>
<text x="355.0" y="462.5" font-size="11.3" text-anchor="middle" fill="#111" >3,97 m²</text>
<text x="256.9" y="481.5" font-size="13.8" text-anchor="middle" fill="#111" >Wohnen</text>
<text x="256.3" y="495.1" font-size="11.3" text-anchor="middle" fill="#111" >23,00 m²</text>
<text x="393.7" y="536.5" font-size="13.8" text-anchor="middle" fill="#111" >Schlafen</text>
<text x="394.0" y="550.4" font-size="11.3" text-anchor="middle" fill="#111" >11,85 m²</text>
<line x1="144.3" y1="240.6" x2="301.8" y2="240.6" stroke="#333" stroke-width="1.4"/><path d="M140.3 240.6 L145.3 237.79999999999998 L145.3 243.4 Z" fill="#111"/><path d="M305.8 240.6 L300.8 237.79999999999998 L300.8 243.4 Z" fill="#111"/><text x="222.8" y="238.3" font-size="11.6" text-anchor="middle" fill="#111">4,75</text>
<line x1="316.9" y1="240.6" x2="412.2" y2="240.6" stroke="#333" stroke-width="1.4"/><path d="M312.9 240.6 L317.9 237.79999999999998 L317.9 243.4 Z" fill="#111"/><path d="M416.2 240.6 L411.2 237.79999999999998 L411.2 243.4 Z" fill="#111"/><text x="364.8" y="238.3" font-size="11.6" text-anchor="middle" fill="#111">2,50</text>
<line x1="430.4" y1="240.6" x2="511.1" y2="240.6" stroke="#333" stroke-width="1.4"/><path d="M426.4 240.6 L431.4 237.79999999999998 L431.4 243.4 Z" fill="#111"/><path d="M515.1 240.6 L510.1 237.79999999999998 L510.1 243.4 Z" fill="#111"/><text x="470.5" y="238.3" font-size="11.6" text-anchor="middle" fill="#111">2,16</text>
<line x1="144.3" y1="716.4" x2="329.9" y2="716.4" stroke="#333" stroke-width="1.4"/><path d="M140.3 716.4 L145.3 713.6 L145.3 719.1999999999999 Z" fill="#111"/><path d="M333.9 716.4 L328.9 713.6 L328.9 719.1999999999999 Z" fill="#111"/><text x="236.7" y="714.1" font-size="11.6" text-anchor="middle" fill="#111">4,96</text>
<line x1="345" y1="716.4" x2="510.9" y2="716.4" stroke="#333" stroke-width="1.4"/><path d="M341 716.4 L346 713.6 L346 719.1999999999999 Z" fill="#111"/><path d="M514.9 716.4 L509.9 713.6 L509.9 719.1999999999999 Z" fill="#111"/><text x="428.2" y="714.2" font-size="11.6" text-anchor="middle" fill="#111">4,09</text>
<line x1="80.2" y1="322.75" x2="80.2" y2="407.6" stroke="#333" stroke-width="1.4"/><path d="M80.2 318.75 L77.4 323.75 L83.0 323.75 Z" fill="#111"/><path d="M80.2 411.6 L77.4 406.6 L83.0 406.6 Z" fill="#111"/><text transform="translate(76.7,365.3) rotate(-90)" font-size="11.6" text-anchor="middle" fill="#111">2,25</text>
<line x1="80.2" y1="422.1" x2="80.2" y2="477.9" stroke="#333" stroke-width="1.4"/><path d="M80.2 418.1 L77.4 423.1 L83.0 423.1 Z" fill="#111"/><path d="M80.2 481.9 L77.4 476.9 L83.0 476.9 Z" fill="#111"/><text transform="translate(76.7,449.4) rotate(-90)" font-size="11.6" text-anchor="middle" fill="#111">1,58</text>
<line x1="80.2" y1="493" x2="80.2" y2="632.5" stroke="#333" stroke-width="1.4"/><path d="M80.2 489 L77.4 494 L83.0 494 Z" fill="#111"/><path d="M80.2 636.5 L77.4 631.5 L83.0 631.5 Z" fill="#111"/><text transform="translate(76.8,563) rotate(-90)" font-size="11.6" text-anchor="middle" fill="#111">3,67</text>
<line x1="101" y1="322.75" x2="101" y2="392.9" stroke="#333" stroke-width="1.4"/><path d="M101 318.75 L98.2 323.75 L103.8 323.75 Z" fill="#111"/><path d="M101 396.9 L98.2 391.9 L103.8 391.9 Z" fill="#111"/><text transform="translate(98.1,357.5) rotate(-90)" font-size="11.6" text-anchor="middle" fill="#111">1,90</text>
<line x1="101" y1="409" x2="101" y2="632.5" stroke="#333" stroke-width="1.4"/><path d="M101 405 L98.2 410 L103.8 410 Z" fill="#111"/><path d="M101 636.5 L98.2 631.5 L103.8 631.5 Z" fill="#111"/><text transform="translate(98.3,521.6) rotate(-90)" font-size="11.6" text-anchor="middle" fill="#111">5,68</text>
<line x1="586.9" y1="284.4" x2="586.9" y2="667.7" stroke="#333" stroke-width="1.4"/><path d="M586.9 280.4 L584.1 285.4 L589.6999999999999 285.4 Z" fill="#111"/><path d="M586.9 671.7 L584.1 666.7 L589.6999999999999 666.7 Z" fill="#111"/><text transform="translate(584.4,476) rotate(-90)" font-size="11.6" text-anchor="middle" fill="#111">9,37</text>
<line x1="607.9" y1="269.9" x2="607.9" y2="682.2" stroke="#333" stroke-width="1.4"/><path d="M607.9 265.9 L605.1 270.9 L610.6999999999999 270.9 Z" fill="#111"/><path d="M607.9 686.2 L605.1 681.2 L610.6999999999999 681.2 Z" fill="#111"/><text transform="translate(605.3,475) rotate(-90)" font-size="11.6" text-anchor="middle" fill="#111">10,13</text>
<g stroke="#444" fill="none" stroke-width="0.9">
<circle cx="591.2" cy="144.5" r="20.8"/>
<line x1="565.8" y1="150.7" x2="617.3" y2="138.2"/>
</g>
<path d="M583.2 111.3 L591.8 145.6 L590.2 175.3 Z" fill="#9a9a9a" stroke="#222" stroke-width="0.9" stroke-linejoin="round"/>
<path d="M583.2 111.3 L607 171.8 L591.8 145.6" fill="none" stroke="#222" stroke-width="0.9"/>
<path d="M591.8 145.6 L598.4 174.1" fill="none" stroke="#444" stroke-width="0.8"/>
<text x="581.6" y="106.2" font-size="16" text-anchor="middle" fill="#111">N</text>
</svg>
</body></html>
